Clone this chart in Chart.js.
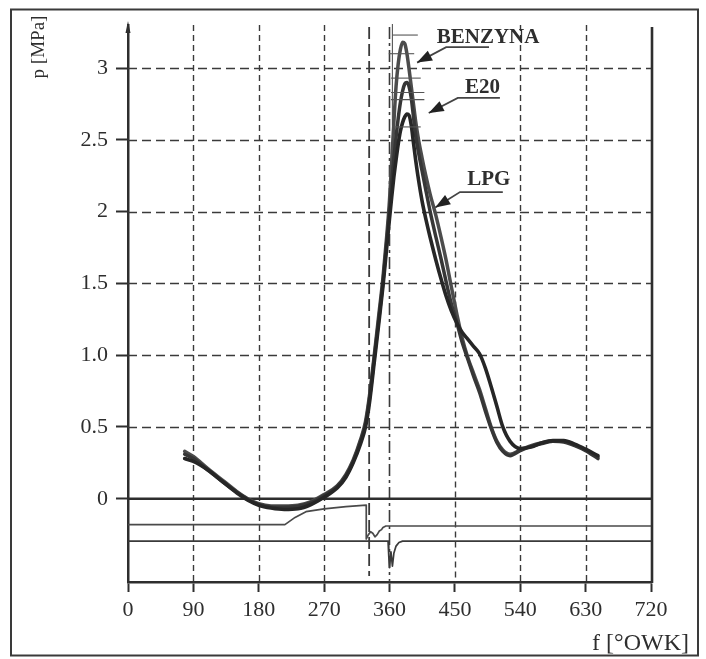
<!DOCTYPE html>
<html lang="pl">
<head>
<meta charset="utf-8">
<title>Przebieg ciśnienia w cylindrze</title>
<script src="https://cdn.jsdelivr.net/npm/chart.js@4.4.1/dist/chart.umd.min.js"></script>
<style>
  html, body { margin: 0; padding: 0; background: #fff; }
  #wykres { display: block; }
</style>
</head>
<body>
<canvas id="wykres" width="706" height="659"></canvas>
<script>
// kąt obrotu wału korbowego [°OWK]
const katy = [78, 90, 110, 130, 150, 165, 180, 197, 215, 234, 252, 270, 288, 300, 310, 320, 327, 333, 339, 345,
  351, 356, 360, 363, 366, 369, 372, 375, 378, 381, 384, 387, 390, 393, 396, 400, 405, 410, 416, 424,
  431, 438, 445, 453, 460, 468, 476, 484, 492, 500, 508, 516, 526, 540, 555, 570, 585, 600, 615, 630, 647];

// ciśnienie w cylindrze [MPa]
const benzyna = [0.33, 0.295, 0.21, 0.13, 0.05, 0.00, -0.035, -0.05, -0.05, -0.045, -0.02, 0.03, 0.09, 0.17, 0.27, 0.41, 0.54, 0.74, 1.00, 1.27,
  1.54, 1.82, 2.08, 2.35, 2.62, 2.87, 3.03, 3.13, 3.18, 3.17, 3.10, 2.99, 2.87, 2.75, 2.63, 2.50, 2.37, 2.25, 2.12, 1.97,
  1.82, 1.66, 1.48, 1.28, 1.12, 0.98, 0.87, 0.76, 0.63, 0.50, 0.40, 0.34, 0.31, 0.34, 0.37, 0.39, 0.40, 0.40, 0.375, 0.34, 0.29];
const e20 = [0.31, 0.28, 0.20, 0.12, 0.045, -0.005, -0.04, -0.057, -0.06, -0.052, -0.027, 0.022, 0.085, 0.16, 0.26, 0.40, 0.52, 0.72, 0.98, 1.24,
  1.51, 1.78, 2.01, 2.20, 2.37, 2.52, 2.65, 2.76, 2.84, 2.89, 2.90, 2.87, 2.79, 2.66, 2.53, 2.41, 2.28, 2.15, 2.00, 1.82,
  1.67, 1.51, 1.36, 1.22, 1.09, 0.97, 0.85, 0.74, 0.61, 0.49, 0.39, 0.33, 0.30, 0.335, 0.365, 0.385, 0.40, 0.395, 0.37, 0.335, 0.28];
const lpg = [0.28, 0.26, 0.20, 0.12, 0.04, -0.01, -0.045, -0.065, -0.075, -0.07, -0.04, 0.01, 0.075, 0.15, 0.25, 0.38, 0.50, 0.69, 0.95, 1.21,
  1.48, 1.74, 1.95, 2.10, 2.24, 2.36, 2.47, 2.56, 2.62, 2.66, 2.68, 2.67, 2.60, 2.48, 2.36, 2.22, 2.07, 1.95, 1.82, 1.66,
  1.53, 1.41, 1.31, 1.22, 1.16, 1.11, 1.06, 1.01, 0.91, 0.78, 0.64, 0.50, 0.40, 0.35, 0.36, 0.39, 0.405, 0.405, 0.38, 0.345, 0.30];

// sygnały pomocnicze pod linią zera
const sygnal1Katy = [0, 216, 230, 245, 270, 300, 328, 328, 331, 334, 337, 340, 343, 346, 349, 351, 355, 720];
const sygnal1 = [-0.18, -0.18, -0.13, -0.09, -0.07, -0.055, -0.045, -0.28, -0.25, -0.23, -0.24, -0.265, -0.25, -0.225, -0.215, -0.2, -0.19, -0.19];
const sygnal2Katy = [0, 358, 359, 360, 362, 364, 366, 369, 373, 378, 720];
const sygnal2 = [-0.295, -0.295, -0.4, -0.48, -0.37, -0.47, -0.38, -0.33, -0.305, -0.295, -0.295];

// osie
const osXTicks = [0, 90, 180, 270, 360, 450, 540, 630, 720];
const osYTicks = [0, 0.5, 1, 1.5, 2, 2.5, 3];
const osYEtykiety = ['0', '0.5', '1.0', '1.5', '2', '2.5', '3'];

// znaczniki ciśnienia maksymalnego
const znacznikiP = [3.23, 3.10, 2.93, 2.83, 2.78, 2.59];
const znacznikiOd = [364, 359, 362, 362, 362, 366];
const znacznikiDo = [399, 394, 403, 408, 408, 403];

const pts = (xs, ys) => xs.map((x, i) => ({ x: x, y: ys[i] }));

const FONT = "'Liberation Serif', 'Times New Roman', serif";
const KOLOR = '#2e2e2e';

// opisy krzywych ze strzałkami (w jednostkach osi)
const opisy = [
  { tekst: 'BENZYNA', x: 425, y: 3.174, linia: [[497, 3.146], [438, 3.146], [398, 3.038]] },
  { tekst: 'E20', x: 464, y: 2.826, linia: [[512, 2.792], [454, 2.792], [414, 2.687]] },
  { tekst: 'LPG', x: 467, y: 2.185, linia: [[516, 2.136], [457, 2.136], [423, 2.028]] }
];

function kreska(ctx, x1, y1, x2, y2, dash, width, color) {
  ctx.save();
  ctx.beginPath();
  ctx.setLineDash(dash);
  ctx.lineWidth = width;
  ctx.strokeStyle = color;
  ctx.moveTo(x1, y1);
  ctx.lineTo(x2, y2);
  ctx.stroke();
  ctx.restore();
}

const tlo = {
  id: 'tlo',
  beforeDatasetsDraw(chart) {
    const { ctx, chartArea: a, scales: { x, y } } = chart;
    const top = a.top, bottom = a.bottom;

    // siatka pozioma
    [0.5, 1, 1.5, 2, 2.5, 3].forEach(v => {
      const py = Math.round(y.getPixelForValue(v)) + 0.5;
      kreska(ctx, a.left, py, a.right, py, [9, 5], 1.4, '#3a3a3a');
    });
    // siatka pionowa
    [90, 180, 270, 540, 630].forEach(v => {
      const px = Math.round(x.getPixelForValue(v)) + 0.5;
      kreska(ctx, px, top, px, bottom, [6, 4], 1.4, '#3a3a3a');
    });
    const p450 = Math.round(x.getPixelForValue(450)) + 0.5;
    kreska(ctx, p450, y.getPixelForValue(2), p450, bottom, [6, 4], 1.4, '#3a3a3a');

    // linie przy GMP
    const p332 = x.getPixelForValue(332);
    kreska(ctx, p332, top + 2, p332, bottom - 6, [12, 5], 1.8, '#3a3a3a');
    const p360 = x.getPixelForValue(360);
    kreska(ctx, p360, top + 2, p360, bottom, [12, 4, 3, 4], 1.6, '#3a3a3a');
    const p364 = x.getPixelForValue(364);
    kreska(ctx, p364, top - 1, p364, y.getPixelForValue(2.6), [], 1.1, '#555');

    // linia zera
    const p0 = y.getPixelForValue(0);
    kreska(ctx, a.left, p0, a.right, p0, [], 2.5, KOLOR);

    // prawa krawędź
    const p720 = x.getPixelForValue(720) + 1;
    kreska(ctx, p720, top + 2, p720, bottom + 1, [], 2.6, KOLOR);

    // grot osi p
    ctx.save();
    ctx.fillStyle = KOLOR;
    ctx.beginPath();
    ctx.moveTo(a.left, top - 4);
    ctx.lineTo(a.left - 2.5, top + 8);
    ctx.lineTo(a.left + 2.5, top + 8);
    ctx.closePath();
    ctx.fill();
    ctx.restore();
  },
  afterDatasetsDraw(chart) {
    const { ctx, scales: { x, y } } = chart;

    // znaczniki przy szczytach
    znacznikiP.forEach((p, i) => {
      const py = y.getPixelForValue(p);
      kreska(ctx, x.getPixelForValue(znacznikiOd[i]), py, x.getPixelForValue(znacznikiDo[i]), py, [], 1.1, '#555');
    });

    // opisy krzywych
    ctx.save();
    ctx.font = 'bold 21px ' + FONT;
    ctx.fillStyle = KOLOR;
    ctx.textBaseline = 'alphabetic';
    ctx.textAlign = 'left';
    opisy.forEach(o => {
      ctx.fillText(o.tekst, x.getPixelForValue(o.x), y.getPixelForValue(o.y));
      const pkt = o.linia.map(([a, b]) => [x.getPixelForValue(a), y.getPixelForValue(b)]);
      ctx.beginPath();
      ctx.lineWidth = 1.8;
      ctx.strokeStyle = '#444';
      ctx.moveTo(pkt[0][0], pkt[0][1]);
      pkt.slice(1).forEach(([a, b]) => ctx.lineTo(a, b));
      ctx.stroke();
      // grot strzałki
      const [xa, ya] = pkt[pkt.length - 2];
      const [xb, yb] = pkt[pkt.length - 1];
      const kat = Math.atan2(yb - ya, xb - xa);
      const dl = 15, sz = 5.5;
      ctx.beginPath();
      ctx.moveTo(xb, yb);
      ctx.lineTo(xb - dl * Math.cos(kat) + sz * Math.sin(kat), yb - dl * Math.sin(kat) - sz * Math.cos(kat));
      ctx.lineTo(xb - dl * Math.cos(kat) - sz * Math.sin(kat), yb - dl * Math.sin(kat) + sz * Math.cos(kat));
      ctx.closePath();
      ctx.fillStyle = '#222';
      ctx.fill();
      ctx.fillStyle = KOLOR;
    });
    ctx.restore();
  },
  afterDraw(chart) {
    const { ctx } = chart;
    ctx.save();
    ctx.fillStyle = KOLOR;
    // opis osi p
    ctx.font = '19px ' + FONT;
    ctx.translate(39, 47);
    ctx.rotate(-Math.PI / 2);
    ctx.textAlign = 'center';
    ctx.textBaseline = 'middle';
    ctx.fillText('p [MPa]', 0, 0);
    ctx.restore();

    ctx.save();
    ctx.fillStyle = KOLOR;
    ctx.font = '24px ' + FONT;
    ctx.textAlign = 'right';
    ctx.textBaseline = 'alphabetic';
    ctx.fillText('f [°OWK]', 689, 650);
    ctx.restore();

    // ramka rysunku
    ctx.save();
    ctx.strokeStyle = '#3a3a3a';
    ctx.lineWidth = 2;
    ctx.strokeRect(11, 9.5, 687, 646);
    ctx.restore();
  }
};

const ctx = document.getElementById('wykres').getContext('2d');
new Chart(ctx, {
  type: 'line',
  data: {
    datasets: [
      { label: 'LPG', data: pts(katy, lpg), borderColor: '#262626', borderWidth: 3.6 },
      { label: 'E20', data: pts(katy, e20), borderColor: '#363636', borderWidth: 3.5 },
      { label: 'BENZYNA', data: pts(katy, benzyna), borderColor: '#4c4c4c', borderWidth: 3.5 },
      { label: 'sygnał 1', data: pts(sygnal1Katy, sygnal1), borderColor: '#4a4a4a', borderWidth: 1.7, tension: 0, cubicInterpolationMode: 'default' },
      { label: 'sygnał 2', data: pts(sygnal2Katy, sygnal2), borderColor: '#3a3a3a', borderWidth: 1.7, tension: 0, cubicInterpolationMode: 'default' }
    ]
  },
  options: {
    responsive: false,
    animation: false,
    devicePixelRatio: 1,
    layout: { padding: { left: 28, top: 25, right: 55, bottom: 27 } },
    elements: {
      point: { radius: 0 },
      line: { cubicInterpolationMode: 'monotone', borderCapStyle: 'round', borderJoinStyle: 'round' }
    },
    plugins: {
      legend: { display: false },
      tooltip: { enabled: false }
    },
    scales: {
      x: {
        type: 'linear',
        min: 0,
        max: 720,
        afterFit: s => { s.height = 50; },
        afterBuildTicks: s => { s.ticks = osXTicks.map(v => ({ value: v })); },
        grid: { drawOnChartArea: false, drawTicks: true, tickLength: 10, tickColor: KOLOR, tickWidth: 2 },
        border: { display: true, color: KOLOR, width: 2.5 },
        ticks: { color: KOLOR, font: { family: FONT, size: 22 }, padding: 5, maxRotation: 0, autoSkip: false }
      },
      y: {
        type: 'linear',
        min: -0.58,
        max: 3.3,
        afterFit: s => { s.width = 100; },
        afterBuildTicks: s => { s.ticks = osYTicks.map(v => ({ value: v })); },
        grid: { drawOnChartArea: false, drawTicks: true, tickLength: 12, tickColor: KOLOR, tickWidth: 2 },
        border: { display: true, color: KOLOR, width: 2.5 },
        ticks: { color: KOLOR, font: { family: FONT, size: 22 }, padding: 8, callback: (v, i) => osYEtykiety[i] }
      }
    }
  },
  plugins: [tlo]
});
</script>
</body>
</html>
